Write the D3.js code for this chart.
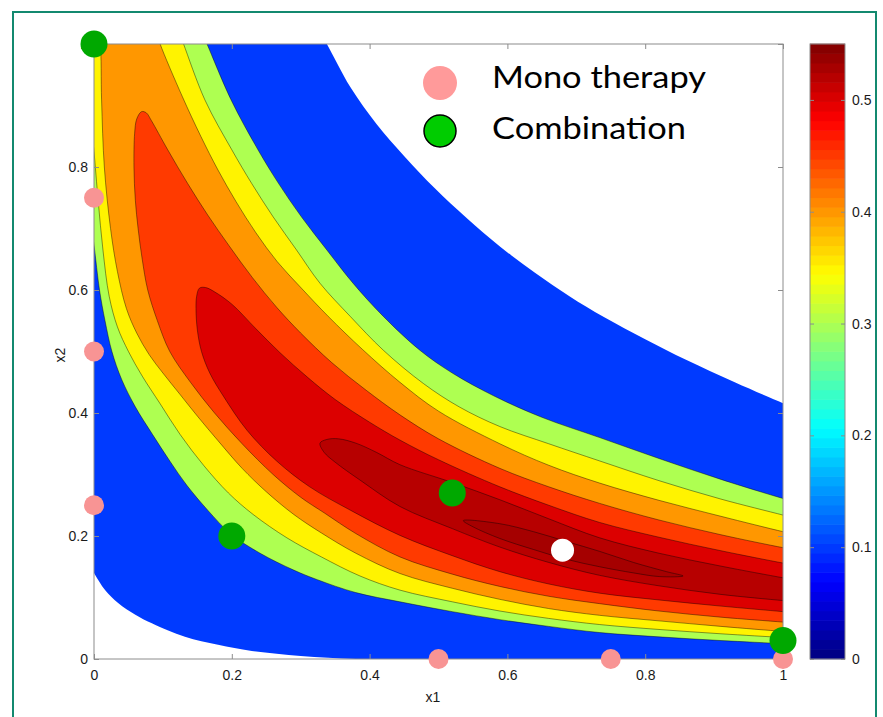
<!DOCTYPE html>
<html>
<head>
<meta charset="utf-8">
<script src="https://cdn.jsdelivr.net/npm/d3@7"></script>
<style>
  body { margin: 0; background: #fff; }
  text { font-family: "Liberation Sans", Arial, sans-serif; }
</style>
</head>
<body>
<script>
  // filled contour levels (lowest level = blue, region below it stays white)
  var levels = [0.1, 0.3, 0.35, 0.4, 0.45, 0.5, 0.52, 0.53];
  var colorTicks = [0, 0.1, 0.2, 0.3, 0.4, 0.5];
  var xTicks = [0, 0.2, 0.4, 0.6, 0.8, 1];
  var yTicks = [0, 0.2, 0.4, 0.6, 0.8, 1];

  // contour lines, in (x1, x2)
  var blueLower = [[-0.01,0.158],[0,0.14],[0.016,0.112],[0.035,0.091],[0.06,0.072],[0.084,0.058],[0.132,0.036],[0.18,0.023],[0.229,0.013],[0.30,0.005],[0.38,0.0],[0.46,-0.004]];
  var blueUpper = [[0.33,1.015],[0.338,1.0],[0.372,0.93],[0.41,0.87],[0.45,0.818],[0.495,0.765],[0.54,0.718],[0.59,0.67],[0.64,0.628],[0.69,0.59],[0.74,0.556],[0.80,0.52],[0.86,0.486],[0.93,0.45],[1.0,0.416],[1.02,0.407]];

  var greenLower = [[-0.006,0.72],[0,0.673],[0.008,0.6],[0.016,0.55],[0.026,0.5],[0.04,0.455],[0.06,0.41],[0.085,0.365],[0.11,0.322],[0.135,0.282],[0.165,0.242],[0.199,0.203],[0.241,0.172],[0.289,0.145],[0.324,0.129],[0.38,0.108],[0.444,0.093],[0.52,0.077],[0.589,0.064],[0.66,0.053],[0.734,0.043],[0.82,0.036],[0.91,0.03],[1,0.025],[1.02,0.024]];
  var greenUpper = [[0.158,1.015],[0.164,1.0],[0.199,0.909],[0.238,0.828],[0.268,0.773],[0.301,0.719],[0.338,0.665],[0.376,0.611],[0.42,0.557],[0.473,0.502],[0.52,0.465],[0.58,0.428],[0.65,0.393],[0.734,0.36],[0.82,0.326],[0.91,0.292],[1,0.261],[1.02,0.255]];

  var yellowLower = [[-0.004,0.87],[0,0.825],[0.006,0.746],[0.013,0.665],[0.022,0.59],[0.034,0.54],[0.05,0.5],[0.07,0.46],[0.096,0.415],[0.125,0.365],[0.159,0.315],[0.195,0.27],[0.231,0.235],[0.28,0.197],[0.33,0.166],[0.386,0.135],[0.444,0.112],[0.52,0.093],[0.589,0.078],[0.66,0.066],[0.734,0.056],[0.82,0.048],[0.91,0.041],[1,0.035],[1.02,0.034]];
  var yellowUpper = [[0.125,1.015],[0.13,1.0],[0.161,0.909],[0.2,0.828],[0.229,0.773],[0.26,0.719],[0.294,0.665],[0.328,0.611],[0.372,0.557],[0.42,0.502],[0.478,0.448],[0.53,0.41],[0.589,0.378],[0.66,0.35],[0.734,0.322],[0.82,0.29],[0.91,0.26],[1,0.234],[1.02,0.228]];

  var orangeLower = [[0.006,1.015],[0.009,1.0],[0.011,0.909],[0.015,0.8],[0.024,0.7],[0.034,0.63],[0.047,0.57],[0.062,0.53],[0.08,0.495],[0.1,0.465],[0.125,0.43],[0.15,0.395],[0.18,0.355],[0.215,0.31],[0.25,0.272],[0.29,0.235],[0.33,0.205],[0.38,0.172],[0.444,0.139],[0.52,0.115],[0.589,0.097],[0.66,0.082],[0.734,0.071],[0.82,0.062],[0.91,0.053],[1,0.045],[1.02,0.044]];
  var orangeUpper = [[0.092,1.015],[0.096,1.0],[0.128,0.915],[0.155,0.85],[0.18,0.795],[0.206,0.744],[0.235,0.693],[0.266,0.646],[0.301,0.603],[0.34,0.557],[0.39,0.503],[0.444,0.45],[0.5,0.403],[0.589,0.35],[0.66,0.315],[0.734,0.286],[0.82,0.258],[0.91,0.232],[1,0.207],[1.02,0.202]];

  var redOrangeLower = [[0.069,0.89],[0.062,0.878],[0.059,0.855],[0.058,0.8],[0.06,0.746],[0.064,0.7],[0.07,0.65],[0.078,0.6],[0.092,0.55],[0.11,0.5],[0.14,0.45],[0.175,0.4],[0.215,0.35],[0.26,0.3],[0.3,0.263],[0.335,0.237],[0.38,0.204],[0.444,0.166],[0.52,0.138],[0.589,0.118],[0.66,0.102],[0.734,0.09],[0.82,0.078],[0.91,0.068],[1,0.06],[1.02,0.058]];
  var redOrangeUpper = [[0.076,0.888],[0.083,0.876],[0.107,0.828],[0.136,0.773],[0.165,0.722],[0.196,0.672],[0.23,0.62],[0.265,0.572],[0.3,0.53],[0.345,0.482],[0.395,0.437],[0.444,0.397],[0.5,0.358],[0.589,0.31],[0.66,0.28],[0.734,0.253],[0.82,0.226],[0.91,0.202],[1,0.181],[1.02,0.177]];

  var redLower = [[0.153,0.603],[0.149,0.59],[0.148,0.57],[0.15,0.535],[0.156,0.5],[0.168,0.465],[0.188,0.427],[0.222,0.372],[0.265,0.322],[0.313,0.28],[0.372,0.242],[0.444,0.201],[0.52,0.168],[0.589,0.142],[0.66,0.122],[0.734,0.107],[0.82,0.096],[0.91,0.086],[1,0.077],[1.02,0.075]];
  var redUpper = [[0.162,0.604],[0.175,0.597],[0.2,0.577],[0.235,0.537],[0.27,0.498],[0.31,0.458],[0.35,0.422],[0.4,0.385],[0.444,0.356],[0.5,0.324],[0.589,0.28],[0.66,0.25],[0.734,0.222],[0.82,0.198],[0.91,0.176],[1,0.156],[1.02,0.152]];

  var darkRedLower = [[0.328,0.351],[0.334,0.336],[0.35,0.32],[0.386,0.291],[0.444,0.248],[0.52,0.212],[0.589,0.182],[0.66,0.157],[0.734,0.136],[0.82,0.119],[0.91,0.105],[1,0.095],[1.02,0.093]];
  var darkRedUpper = [[0.338,0.357],[0.355,0.358],[0.38,0.351],[0.41,0.336],[0.444,0.316],[0.52,0.287],[0.589,0.259],[0.66,0.228],[0.734,0.197],[0.82,0.172],[0.91,0.151],[1,0.132],[1.02,0.128]];

  var peakLoop = [[0.536,0.225],[0.589,0.22],[0.638,0.207],[0.686,0.191],[0.734,0.175],[0.783,0.157],[0.831,0.142],[0.855,0.135],[0.821,0.134],[0.783,0.14],[0.734,0.15],[0.686,0.162],[0.638,0.178],[0.589,0.196],[0.55,0.215]];

  // experiment points
  var monoPoints = [[0, 0.25], [0, 0.5], [0, 0.75], [0.5, 0], [0.75, 0], [1, 0]];
  var comboPoints = [[0, 1], [0.2, 0.2], [0.52, 0.27], [1, 0.03]];
  var optimumPoint = [0.68, 0.177];
  var legendLabels = ["Mono therapy", "Combination"];

  var W = 883, H = 717;
  var x = d3.scaleLinear().domain([0, 1]).range([94, 783]);
  var y = d3.scaleLinear().domain([0, 1]).range([659, 44]);

  // matlab jet
  function jet(t) {
    function c(v) { return Math.max(0, Math.min(1, v)); }
    var r = c(1.5 - Math.abs(4 * t - 3)), g = c(1.5 - Math.abs(4 * t - 2)), b = c(1.5 - Math.abs(4 * t - 1));
    return d3.rgb(r * 255, g * 255, b * 255).toString();
  }
  var color = d3.scaleSequential(jet).domain([0, 0.55]);

  var svg = d3.select("body").append("svg").attr("width", W).attr("height", H);

  // outer frame
  svg.append("rect").attr("x", 13).attr("y", 12).attr("width", 863).attr("height", 740)
    .attr("fill", "none").attr("stroke", "#13896f").attr("stroke-width", 2);

  svg.append("defs").append("clipPath").attr("id", "plotclip")
    .append("rect").attr("x", 94).attr("y", 44).attr("width", 689).attr("height", 615);

  var line = d3.line().x(function(d){ return x(d[0]); }).y(function(d){ return y(d[1]); })
               .curve(d3.curveCatmullRom.alpha(0.5));
  function seg(p) { return line(p).replace(/^M/, "L"); }
  function pt(p) { return "L" + x(p[0]) + "," + y(p[1]); }
  function rev(p) { return p.slice().reverse(); }

  var regions = [
    line(blueLower) + pt([1.06, -0.06]) + pt([1.06, 0.41]) + seg(rev(blueUpper)) + pt([-0.06, 1.06]) + pt([-0.06, 0.158]) + "Z",
    line(greenLower) + pt([1.06, 0.02]) + pt([1.06, 0.26]) + seg(rev(greenUpper)) + pt([-0.06, 1.06]) + pt([-0.06, 0.72]) + "Z",
    line(yellowLower) + pt([1.06, 0.033]) + pt([1.06, 0.23]) + seg(rev(yellowUpper)) + pt([-0.06, 1.06]) + pt([-0.06, 0.87]) + "Z",
    line(orangeLower) + pt([1.06, 0.043]) + pt([1.06, 0.2]) + seg(rev(orangeUpper)) + "Z",
    line(rev(redOrangeLower).concat(redOrangeUpper)) + "Z",
    line(rev(redLower).concat(redUpper)) + "Z",
    line(rev(darkRedLower).concat(darkRedUpper)) + "Z",
    d3.line().x(function(d){ return x(d[0]); }).y(function(d){ return y(d[1]); })
      .curve(d3.curveCatmullRomClosed.alpha(0.5))(peakLoop)
  ];

  var plot = svg.append("g").attr("clip-path", "url(#plotclip)");
  plot.selectAll("path.band").data(regions).enter().append("path")
    .attr("class", "band")
    .attr("d", function(d){ return d; })
    .attr("fill", function(d, i){ return color(levels[i]); })
    .attr("stroke", function(d, i){ return i === 0 ? "none" : "rgba(0,0,0,0.6)"; })
    .attr("stroke-width", 0.7);

  // axes box
  svg.append("rect").attr("x", 94).attr("y", 44).attr("width", 689).attr("height", 615)
    .attr("fill", "none").attr("stroke", "#8c8c8c").attr("stroke-width", 1);

  var fmt = d3.format("~g");
  function styleAxis(g) {
    g.select(".domain").remove();
    g.selectAll(".tick line").attr("stroke", "#8c8c8c");
    g.selectAll(".tick text").attr("fill", "#1a1a1a").style("font-size", "14px");
  }
  svg.append("g").attr("transform", "translate(0,659)")
    .call(d3.axisBottom(x).tickValues(xTicks).tickFormat(fmt).tickSizeInner(-5).tickSizeOuter(0).tickPadding(11))
    .call(styleAxis);
  svg.append("g").attr("transform", "translate(0,44)")
    .call(d3.axisTop(x).tickValues(xTicks).tickFormat("").tickSizeInner(-5).tickSizeOuter(0))
    .call(styleAxis);
  svg.append("g").attr("transform", "translate(94,0)")
    .call(d3.axisLeft(y).tickValues(yTicks).tickFormat(fmt).tickSizeInner(-5).tickSizeOuter(0).tickPadding(6))
    .call(styleAxis);
  svg.append("g").attr("transform", "translate(783,0)")
    .call(d3.axisRight(y).tickValues(yTicks).tickFormat("").tickSizeInner(-5).tickSizeOuter(0))
    .call(styleAxis);

  svg.append("text").attr("x", 433).attr("y", 702).attr("text-anchor", "middle")
    .style("font-size", "14px").attr("fill", "#1a1a1a").text("x1");
  svg.append("text").attr("transform", "translate(65,355) rotate(-90)").attr("text-anchor", "middle")
    .style("font-size", "14px").attr("fill", "#1a1a1a").text("x2");

  // points
  svg.selectAll("circle.mono").data(monoPoints).enter().append("circle")
    .attr("class", "mono")
    .attr("cx", function(d){ return x(d[0]); }).attr("cy", function(d){ return y(d[1]); })
    .attr("r", 10).attr("fill", "#f89494");
  svg.selectAll("circle.combo").data(comboPoints).enter().append("circle")
    .attr("class", "combo")
    .attr("cx", function(d){ return x(d[0]); }).attr("cy", function(d){ return y(d[1]); })
    .attr("r", 13.5).attr("fill", "#00a800");
  svg.append("circle").attr("cx", x(optimumPoint[0])).attr("cy", y(optimumPoint[1]))
    .attr("r", 11.5).attr("fill", "#ffffff");

  // legend
  var legend = svg.append("g");
  legend.append("circle").attr("cx", 440).attr("cy", 83).attr("r", 17).attr("fill", "#ff9a9a");
  legend.append("circle").attr("cx", 440).attr("cy", 131).attr("r", 16).attr("fill", "#00cc00")
    .attr("stroke", "#000").attr("stroke-width", 1.5);
  legend.selectAll("text").data(legendLabels).enter().append("text")
    .attr("x", 492).attr("y", function(d, i){ return 88 + i * 51; })
    .style("font-family", "Lato, 'Open Sans', sans-serif").style("font-size", "30px")
    .attr("fill", "#000")
    .attr("textLength", function(d, i){ return i === 0 ? 214 : 194; })
    .attr("lengthAdjust", "spacingAndGlyphs")
    .text(function(d){ return d; });

  // colorbar
  var cb = d3.scaleLinear().domain([0, 0.55]).range([659, 44]);
  var steps = d3.range(0, 64).map(function(i){ return i * 0.55 / 64; });
  svg.append("g").selectAll("rect").data(steps).enter().append("rect")
    .attr("x", 810).attr("width", 35)
    .attr("y", function(d){ return cb(d + 0.55 / 64) - 0.3; })
    .attr("height", function(d){ return cb(d) - cb(d + 0.55 / 64) + 0.6; })
    .attr("fill", function(d){ return color(d + 0.55 / 128); });
  svg.append("rect").attr("x", 810).attr("y", 44).attr("width", 35).attr("height", 615)
    .attr("fill", "none").attr("stroke", "#8c8c8c");
  svg.append("g").attr("transform", "translate(845,0)")
    .call(d3.axisRight(cb).tickValues(colorTicks).tickFormat(fmt).tickSizeInner(-4).tickSizeOuter(0).tickPadding(7))
    .call(styleAxis);
  svg.append("g").attr("transform", "translate(810,0)")
    .call(d3.axisLeft(cb).tickValues(colorTicks).tickFormat("").tickSizeInner(-4).tickSizeOuter(0))
    .call(styleAxis);
</script>
</body>
</html>
